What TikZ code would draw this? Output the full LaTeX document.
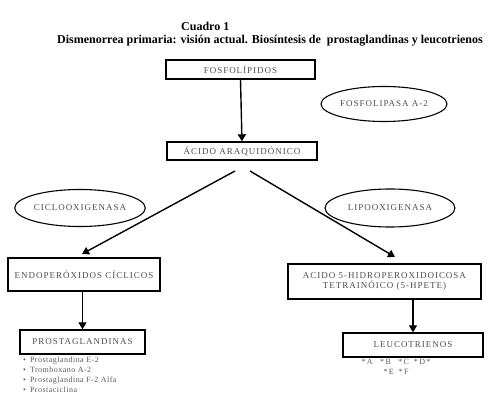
\documentclass[tikz,border=0pt]{standalone}
\usepackage{fontspec}
\setmainfont{Liberation Serif}
\newfontfamily\capsfont[LetterSpace=11]{Liberation Serif}
\newfontfamily\listfont[LetterSpace=6]{Liberation Serif}
\usetikzlibrary{arrows.meta,shapes.geometric}

\begin{document}
\begin{tikzpicture}[
  x=1pt, y=-1pt,
  box node/.style={draw,line width=1.4pt,inner sep=0pt,align=center,
    font=\capsfont\fontsize{9}{10.5}\selectfont,text=black!70},
  enzyme node/.style={draw,line width=1.1pt,ellipse,inner sep=0pt,
    font=\capsfont\fontsize{9}{10}\selectfont,text=black!70},
  step arrow/.style={-{Triangle[length=7pt,width=8pt]},line width=1.4pt},
  list text/.style={inner sep=0pt,align=left,
    font=\listfont\fontsize{8}{10}\selectfont,text=black!65},
]
  \useasboundingbox (0,0) rectangle (499,409);

  % Titles
  \node[anchor=west,inner sep=0pt,font=\bfseries\fontsize{12}{14}\selectfont]
    (cuadro) at (181,26) {Cuadro 1};
  \node[inner sep=0pt,font=\bfseries\fontsize{12}{14}\selectfont]
    (titulo) at (270,41)
    {Dismenorrea primaria: visión actual. Biosíntesis de\ \ prostaglandinas y leucotrienos};

  % Boxes of the pathway
  \node[box node,minimum width=149pt,minimum height=19pt] (fosfo) at (240.5,69.5) {FOSFOLÍPIDOS};
  \node[box node,minimum width=150pt,minimum height=18pt] (acido) at (242,151) {ÁCIDO ARAQUIDÓNICO};
  \node[box node,minimum width=152pt,minimum height=33pt] (endo) at (84,274.5) {ENDOPERÓXIDOS CÍCLICOS};
  \node[box node,minimum width=193pt,minimum height=35pt] (hpete) at (384.5,281.5)
    {ACIDO 5-HIDROPEROXIDOICOSA\\[-1pt] TETRAINÓICO (5-HPETE)};
  \node[box node,minimum width=125pt,minimum height=24pt] (prosta) at (82.5,342) {PROSTAGLANDINAS};
  \node[box node,minimum width=140pt,minimum height=24pt] (leuco) at (413,345) {LEUCOTRIENOS};

  % Enzymes
  \node[enzyme node,minimum width=126pt,minimum height=35pt] (fosfolipasa) at (384,104) {FOSFOLIPASA A-2};
  \node[enzyme node,minimum width=127pt,minimum height=37pt] (ciclo) at (80,208) {CICLOOXIGENASA};
  \node[enzyme node,minimum width=130pt,minimum height=38pt] (lipo) at (390,208) {LIPOOXIGENASA};

  % Products
  \node[list text,anchor=north west] (prostalist) at (23,357)
    {\textbullet\hspace{4pt}Prostaglandina E-2\\
     \textbullet\hspace{4pt}Tromboxano A-2\\
     \textbullet\hspace{4pt}Prostaglandina F-2 Alfa\\
     \textbullet\hspace{4pt}Prostaciclina};
  \node[list text,align=center] (leucolist) at (396,367)
    {*\,A\ \ \ *\,B\ \ \ *\,C\ \ *\,D\,*\\ *\,E\ \ *\,F};

  % Arrows
  \coordinate (split l) at (235,171);
  \coordinate (split r) at (250,171);
  \coordinate (endo in) at (82,254);
  \coordinate (hpete in) at (395,257);
  \draw[step arrow] (fosfo.south) -- (acido.north);
  \draw[step arrow] (split l) -- (endo in);
  \draw[step arrow] (split r) -- (hpete in);
  \draw[step arrow] (prosta.north |- endo.south) -- (prosta.north);
  \draw[step arrow] (leuco.north |- hpete.south) -- (leuco.north);
\end{tikzpicture}
\end{document}
